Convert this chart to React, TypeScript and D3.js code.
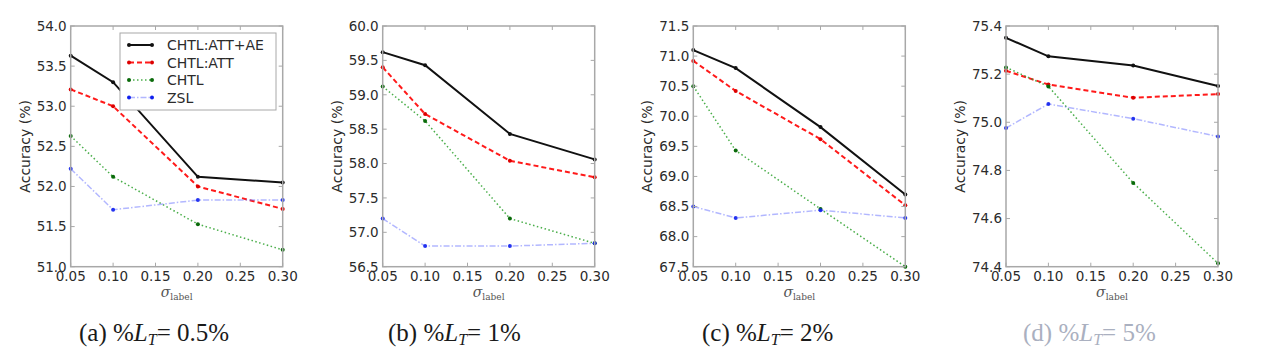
import React from "react";
import * as d3 from "d3";

const sigma = [0.05, 0.1, 0.2, 0.3];
const xTickValues = [0.05, 0.1, 0.15, 0.2, 0.25, 0.3];

const seriesNames = ["CHTL:ATT+AE", "CHTL:ATT", "CHTL", "ZSL"];

// values per panel (a..d)
const attAe = [
  [53.63, 53.3, 52.12, 52.05],
  [59.62, 59.43, 58.43, 58.06],
  [71.1, 70.8, 69.82, 68.7],
  [75.351, 75.274, 75.236, 75.151],
];
const att = [
  [53.21, 53.0, 52.0, 51.72],
  [59.4, 58.72, 58.04, 57.8],
  [70.92, 70.42, 69.62, 68.52],
  [75.214, 75.157, 75.102, 75.117],
];
const chtl = [
  [52.63, 52.12, 51.53, 51.21],
  [59.12, 58.62, 57.2, 56.84],
  [70.5, 69.43, 68.46, 67.5],
  [75.228, 75.149, 74.748, 74.414],
];
const zsl = [
  [52.22, 51.71, 51.83, 51.83],
  [57.2, 56.8, 56.8, 56.84],
  [68.5, 68.31, 68.44, 68.31],
  [74.976, 75.076, 75.015, 74.941],
];

const yDomains = [
  [51, 54],
  [56.5, 60],
  [67.5, 71.5],
  [74.4, 75.4],
];
const yTickLists = [
  [51.0, 51.5, 52.0, 52.5, 53.0, 53.5, 54.0],
  [56.5, 57.0, 57.5, 58.0, 58.5, 59.0, 59.5, 60.0],
  [67.5, 68.0, 68.5, 69.0, 69.5, 70.0, 70.5, 71.0, 71.5],
  [74.4, 74.6, 74.8, 75.0, 75.2, 75.4],
];
const panelLetters = ["a", "b", "c", "d"];
const panelPercents = ["0.5%", "1%", "2%", "5%"];

// layout
const panelLefts = [70.7, 382.7, 693.3, 1006];
const captionXs = [79, 388, 702, 1023];
const PW = 212;
const TOP = 26;
const BOTTOM = 266.7;

const styles = [
  { stroke: "#111", width: 2, dash: "", opacity: 1, marker: "#111", mOpacity: 1 },
  { stroke: "#ff1a1a", width: 2, dash: "5,3", opacity: 1, marker: "#dd0000", mOpacity: 1 },
  { stroke: "#2aa02a", width: 1.5, dash: "1.5,2.5", opacity: 0.85, marker: "#0a6a0a", mOpacity: 1 },
  { stroke: "#5560ff", width: 1.5, dash: "6,2,1.5,2", opacity: 0.45, marker: "#1020ee", mOpacity: 0.9 },
];

const tickFont = "'DejaVu Sans', sans-serif";
const textColor = "#2b2b2b";
const spineColor = "#a8a8a8";

function Panel({ idx }: { idx: number }) {
  const left = panelLefts[idx];
  const x = d3.scaleLinear().domain([0.05, 0.3]).range([left, left + PW]);
  const y = d3.scaleLinear().domain(yDomains[idx]).range([BOTTOM, TOP]);
  const line = d3
    .line<number>()
    .x((_, i) => x(sigma[i]))
    .y((v) => y(v));
  const allSeries = [attAe[idx], att[idx], chtl[idx], zsl[idx]];
  const yFmt = d3.format(".1f");
  const xFmt = d3.format(".2f");
  const midX = left + PW / 2;
  const midY = (TOP + BOTTOM) / 2;
  const faded = idx === 3;
  return (
    <g>
      {allSeries.map((vals, s) => (
        <g key={s}>
          <path
            d={line(vals) || ""}
            fill="none"
            stroke={styles[s].stroke}
            strokeWidth={styles[s].width}
            strokeDasharray={styles[s].dash}
            strokeOpacity={styles[s].opacity}
          />
          {vals.map((v, i) => (
            <circle
              key={i}
              cx={x(sigma[i])}
              cy={y(v)}
              r={2}
              fill={styles[s].marker}
              fillOpacity={styles[s].mOpacity}
            />
          ))}
        </g>
      ))}
      <rect
        x={left}
        y={TOP}
        width={PW}
        height={BOTTOM - TOP}
        fill="none"
        stroke={spineColor}
        strokeWidth={1.5}
      />
      {xTickValues.map((t) => (
        <g key={"x" + t}>
          <line x1={x(t)} x2={x(t)} y1={BOTTOM} y2={BOTTOM - 4} stroke={spineColor} strokeWidth={1} />
          <line x1={x(t)} x2={x(t)} y1={TOP} y2={TOP + 4} stroke={spineColor} strokeWidth={1} />
          <text
            x={x(t)}
            y={280.5}
            textAnchor="middle"
            fontFamily={tickFont}
            fontSize={13.5}
            fill={textColor}
          >
            {xFmt(t)}
          </text>
        </g>
      ))}
      {yTickLists[idx].map((t) => (
        <g key={"y" + t}>
          <line x1={left} x2={left + 4} y1={y(t)} y2={y(t)} stroke={spineColor} strokeWidth={1} />
          <line x1={left + PW} x2={left + PW - 4} y1={y(t)} y2={y(t)} stroke={spineColor} strokeWidth={1} />
          <text
            x={left - 4}
            y={y(t)}
            dy="0.36em"
            textAnchor="end"
            fontFamily={tickFont}
            fontSize={13.5}
            fill={textColor}
          >
            {yFmt(t)}
          </text>
        </g>
      ))}
      <text
        transform={`translate(${left - 46},${midY}) rotate(-90)`}
        textAnchor="middle"
        dy="0.36em"
        fontFamily={tickFont}
        fontSize={14}
        fill={textColor}
      >
        Accuracy (%)
      </text>
      <text
        x={midX}
        y={297}
        textAnchor="middle"
        fontFamily="'DejaVu Serif', serif"
        fill="#555"
      >
        <tspan fontStyle="italic" fontSize={14}>σ</tspan>
        <tspan fontSize={9} dy={3}>label</tspan>
      </text>
      <text
        x={captionXs[idx]}
        y={341}
        fontFamily="'Liberation Serif', 'Times New Roman', serif"
        fontSize={25}
        fill={faded ? "#aab0c0" : "#1a1a1a"}
      >
        <tspan>({panelLetters[idx]}) %</tspan>
        <tspan fontStyle="italic">L</tspan>
        <tspan fontStyle="italic" fontSize={16} dy={4}>T</tspan>
        <tspan dy={-4}>= {panelPercents[idx]}</tspan>
      </text>
    </g>
  );
}

function Legend() {
  const lx = 120;
  const ly = 33;
  const rows = [45, 62.5, 80, 97.5];
  return (
    <g>
      <rect x={lx} y={ly} width={156} height={77} fill="#fff" stroke={spineColor} strokeWidth={1} />
      {seriesNames.map((name, s) => (
        <g key={name}>
          <line
            x1={129}
            x2={152}
            y1={rows[s]}
            y2={rows[s]}
            stroke={styles[s].stroke}
            strokeWidth={styles[s].width}
            strokeDasharray={styles[s].dash}
            strokeOpacity={styles[s].opacity}
          />
          <circle cx={129} cy={rows[s]} r={2} fill={styles[s].marker} />
          <circle cx={152} cy={rows[s]} r={2} fill={styles[s].marker} />
          <text
            x={167}
            y={rows[s]}
            dy="0.36em"
            fontFamily={tickFont}
            fontSize={14}
            fill={textColor}
          >
            {name}
          </text>
        </g>
      ))}
    </g>
  );
}

export default function App() {
  return (
    <svg
      width={1267}
      height={361}
      style={{ position: "absolute", left: 0, top: 0, background: "#fff" }}
    >
      <rect x={0} y={0} width={1267} height={361} fill="#fff" />
      {panelLefts.map((_, i) => (
        <Panel key={i} idx={i} />
      ))}
      <Legend />
    </svg>
  );
}
